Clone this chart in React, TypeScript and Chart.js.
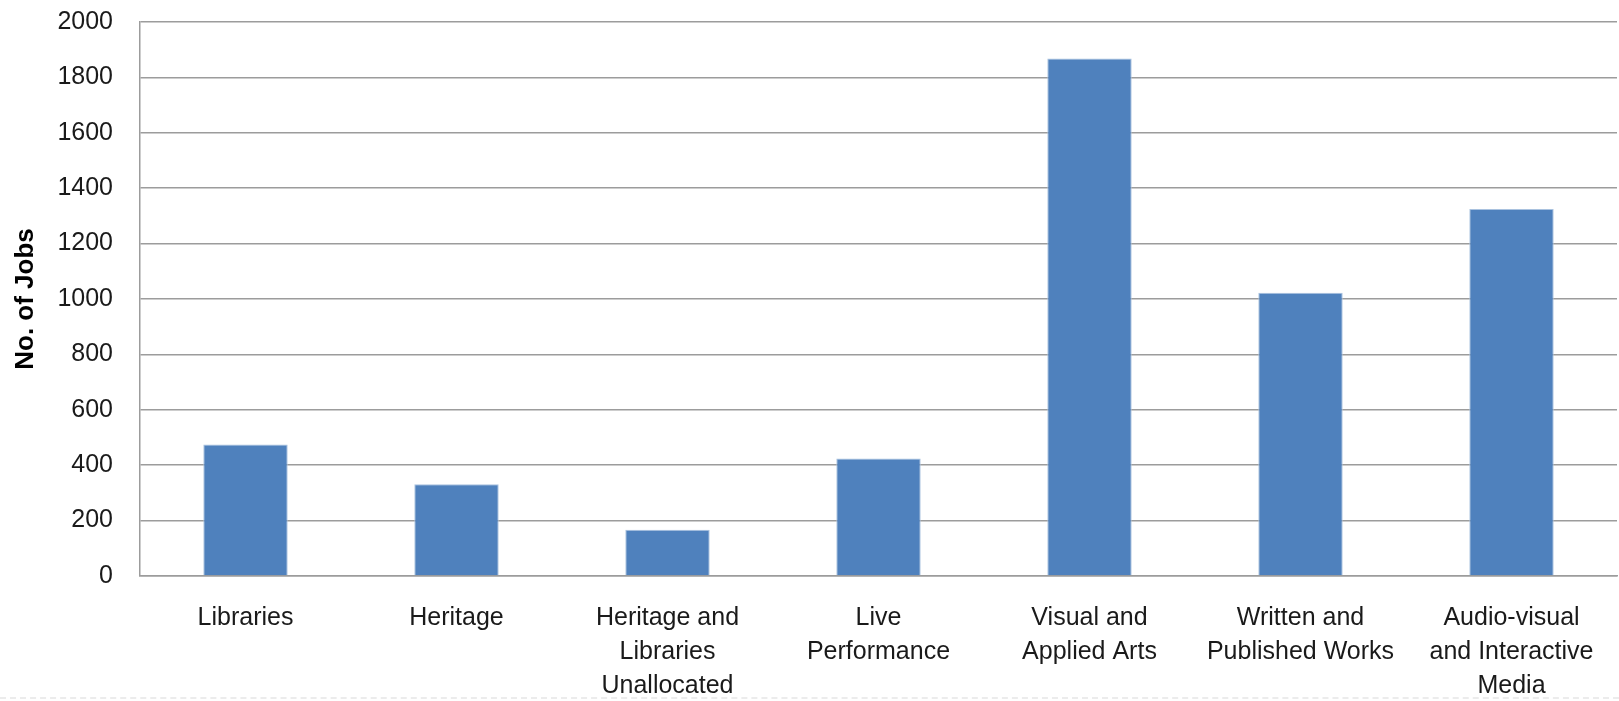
import React, { useEffect, useRef } from "react";
import { Chart, registerables } from "chart.js";

Chart.register(...registerables);

const categories: (string | string[])[] = [
  "Libraries",
  "Heritage",
  ["Heritage and", "Libraries", "Unallocated"],
  ["Live", "Performance"],
  ["Visual and", "Applied Arts"],
  ["Written and", "Published Works"],
  ["Audio-visual", "and Interactive", "Media"],
];

const jobCounts: number[] = [475, 331, 167, 424, 1868, 1023, 1325];

const yAxisTitle = "No. of Jobs";
const yMin = 0;
const yMax = 2000;
const yStep = 200;

const FONT = "'Liberation Sans', Arial, sans-serif";
const GRID = "#9c9c9c";

export default function App() {
  const canvasRef = useRef<HTMLCanvasElement | null>(null);

  useEffect(() => {
    if (!canvasRef.current) return;
    const chart = new Chart(canvasRef.current, {
      type: "bar",
      data: {
        labels: categories,
        datasets: [
          {
            label: yAxisTitle,
            data: jobCounts,
            backgroundColor: "#4f81bd",
            borderColor: "#a9c2df",
            borderWidth: 1,
            barPercentage: 0.4,
            categoryPercentage: 1,
          },
        ],
      },
      options: {
        animation: false,
        responsive: false,
        maintainAspectRatio: false,
        layout: { padding: { left: 0, top: 22, right: 2, bottom: 0 } },
        plugins: {
          legend: { display: false },
          tooltip: { enabled: false },
        },
        scales: {
          x: {
            grid: { display: false, drawTicks: false },
            border: { display: true, color: GRID, width: 1.5 },
            ticks: {
              color: "#1a1a1a",
              font: { family: FONT, size: 25, lineHeight: 1.36 },
              padding: 25,
              maxRotation: 0,
              autoSkip: false,
            },
            afterFit: (scale: any) => {
              scale.height = 125;
            },
          },
          y: {
            min: yMin,
            max: yMax,
            grid: { color: GRID, lineWidth: 1.5, drawTicks: false },
            border: { display: true, color: GRID, width: 1.5 },
            ticks: {
              stepSize: yStep,
              color: "#1a1a1a",
              font: { family: FONT, size: 25 },
              padding: 27,
              callback: (value: any) => String(value),
            },
            title: {
              display: true,
              text: yAxisTitle,
              color: "#000000",
              font: { family: FONT, size: 26, weight: "bold", lineHeight: 1.2 },
              padding: { top: 10, bottom: 0 },
            },
            afterFit: (scale: any) => {
              scale.width = 140;
              // the label gap is horizontal only; keep it out of the vertical padding
              scale.paddingTop = 0;
              scale.paddingBottom = 0;
            },
          },
        },
      },
    });
    return () => chart.destroy();
  }, []);

  return (
    <div
      style={{
        position: "fixed",
        left: 0,
        top: 0,
        width: 1619,
        height: 701,
        background: "#ffffff",
        overflow: "hidden",
      }}
    >
      <canvas ref={canvasRef} width={1619} height={701} style={{ display: "block" }} />
      <div
        style={{
          position: "absolute",
          left: 0,
          top: 697,
          width: 1619,
          borderTop: "2px dashed #ececec",
        }}
      />
    </div>
  );
}
